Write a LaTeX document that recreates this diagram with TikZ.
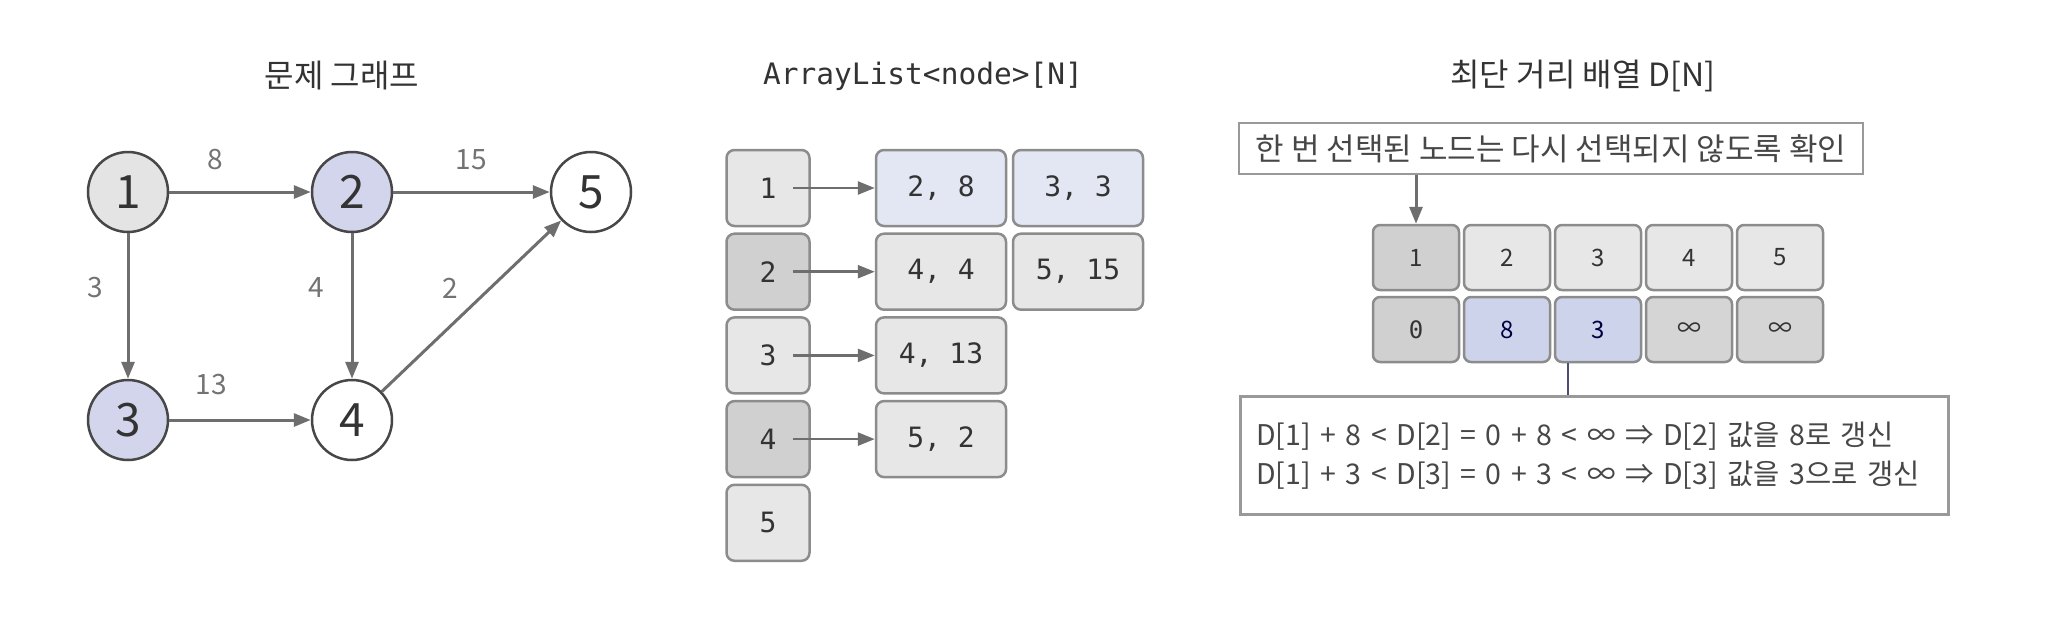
\documentclass[tikz,border=0pt]{standalone}
\usepackage{fontspec}
\setmainfont{Noto Sans CJK KR}
\setmonofont{DejaVu Sans Mono}
\usetikzlibrary{arrows.meta}

\definecolor{edgegray}{HTML}{6E6E6E}
\definecolor{vgray}{HTML}{E4E4E4}
\definecolor{vblue}{HTML}{D3D5EC}
\definecolor{boxline}{HTML}{8C8C8C}
\definecolor{lightcell}{HTML}{E7E7E7}
\definecolor{darkcell}{HTML}{D0D0D0}
\definecolor{bluecell}{HTML}{E3E7F4}
\definecolor{selcell}{HTML}{CED3EC}
\definecolor{inkgray}{HTML}{333333}

\tikzset{
  vert/.style={circle, draw=black!72, line width=2.5pt, minimum size=80pt, inner sep=0pt,
    text=inkgray, font=\fontsize{46}{50}\selectfont},
  wlabel/.style={text=black!55, font=\fontsize{28}{32}\selectfont},
  arr/.style={draw=edgegray, line width=3pt, -{Triangle[length=17pt,width=13pt]}},
  title/.style={text=inkgray, font=\fontsize{32}{36}\selectfont},
  box/.style={draw=boxline, line width=2.5pt, rounded corners=8pt, minimum height=76pt,
    text=inkgray, font=\ttfamily\fontsize{28}{32}\selectfont},
  idx/.style={box, minimum width=83pt},
  entry/.style={box, minimum width=130pt},
  cell/.style={draw=boxline, line width=2.5pt, rounded corners=7pt, minimum width=86pt,
    minimum height=65pt, text=inkgray, font=\fontsize{24}{28}\selectfont},
  note/.style={draw=black!40, line width=2.5pt, text=black!72, font=\fontsize{31}{39}\selectfont}
}

\begin{document}
\begin{tikzpicture}[x=1pt, y=-1pt]
\fill[white] (0,0) rectangle (2047,643);
\useasboundingbox (0,0) rectangle (2047,643);

% problem graph
\node[title] (t1) at (342,76) {문제 그래프};
\node[vert, fill=vgray] (n1) at (128,192) {1};
\node[vert, fill=vblue] (n2) at (352,192) {2};
\node[vert, fill=white] (n5) at (591,192) {5};
\node[vert, fill=vblue] (n3) at (128,420) {3};
\node[vert, fill=white] (n4) at (352,420) {4};

\draw[arr] (n1) -- (n2);
\draw[arr] (n2) -- (n5);
\draw[arr] (n1) -- (n3);
\draw[arr] (n2) -- (n4);
\draw[arr] (n3) -- (n4);
\draw[arr] (n4) -- (n5);

\node[wlabel] (w12) at (215,160) {8};
\node[wlabel] (w25) at (471,160) {15};
\node[wlabel] (w13) at (95,288) {3};
\node[wlabel] (w24) at (316,288) {4};
\node[wlabel] (w45) at (450,288) {2};
\node[wlabel] (w34) at (211,385) {13};

% adjacency list
\node[title, font=\ttfamily\fontsize{29.5}{36}\selectfont] (t2) at (923,76) {ArrayList<node>[N]};
\node[idx, fill=lightcell] (i1) at (768,188) {1};
\node[idx, fill=darkcell] (i2) at (768,271.7) {2};
\node[idx, fill=lightcell] (i3) at (768,355.4) {3};
\node[idx, fill=darkcell] (i4) at (768,439.1) {4};
\node[idx, fill=lightcell] (i5) at (768,522.8) {5};

\node[entry, fill=bluecell] (e1a) at (941,188) {2, 8};
\node[entry, fill=bluecell] (e1b) at (1078,188) {3, 3};
\node[entry, fill=lightcell] (e2a) at (941,271.7) {4, 4};
\node[entry, fill=lightcell] (e2b) at (1078,271.7) {5, 15};
\node[entry, fill=lightcell] (e3a) at (941,355.4) {4, 13};
\node[entry, fill=lightcell] (e4a) at (941,439.1) {5, 2};

\draw[arr, line width=2.5pt] ([xshift=-18pt]i1.east) -- (e1a.west);
\draw[arr, line width=2.5pt] ([xshift=-18pt]i2.east) -- (e2a.west);
\draw[arr, line width=2.5pt] ([xshift=-18pt]i3.east) -- (e3a.west);
\draw[arr, line width=2.5pt] ([xshift=-18pt]i4.east) -- (e4a.west);

% distance array
\node[title] (t3) at (1583,76) {최단 거리 배열 D[N]};
\node[note, minimum width=624pt, minimum height=51pt, inner sep=0pt] (chk) at (1551,148.5)
  {한 번 선택된 노드는 다시 선택되지 않도록 확인};

\node[cell, fill=darkcell] (c1) at (1416,257.5) {1};
\node[cell, fill=lightcell] (c2) at (1507,257.5) {2};
\node[cell, fill=lightcell] (c3) at (1598,257.5) {3};
\node[cell, fill=lightcell] (c4) at (1689,257.5) {4};
\node[cell, fill=lightcell] (c5) at (1780,257.5) {5};

\node[cell, fill=darkcell, font=\ttfamily\fontsize{24}{28}\selectfont] (d1) at (1416,329.5) {0};
\node[cell, fill=selcell, text=black!75!blue] (d2) at (1507,329.5) {8};
\node[cell, fill=selcell, text=black!75!blue] (d3) at (1598,329.5) {3};
\node[cell, fill=darkcell!90] (d4) at (1689,329.5) {∞};
\node[cell, fill=darkcell!90] (d5) at (1780,329.5) {∞};

\draw[arr] (chk.south -| c1.north) -- (c1.north);

\node[note, anchor=north west, minimum width=708pt, minimum height=118pt, align=left,
  text width=676pt, inner xsep=16pt, font=\fontsize{28.5}{39}\selectfont] (upd) at (1239,395)
  {\mbox{D[1] + 8 < D[2] = 0 + 8 < ∞ ⇒ D[2] 값을 8로 갱신}\\
   \mbox{D[1] + 3 < D[3] = 0 + 3 < ∞ ⇒ D[3] 값을 3으로 갱신}};
\draw[draw=black!60!blue!40!gray, line width=2.5pt] ([xshift=-30pt]d3.south) -- ([xshift=-30pt]d3.south |- upd.north);
\end{tikzpicture}
\end{document}
